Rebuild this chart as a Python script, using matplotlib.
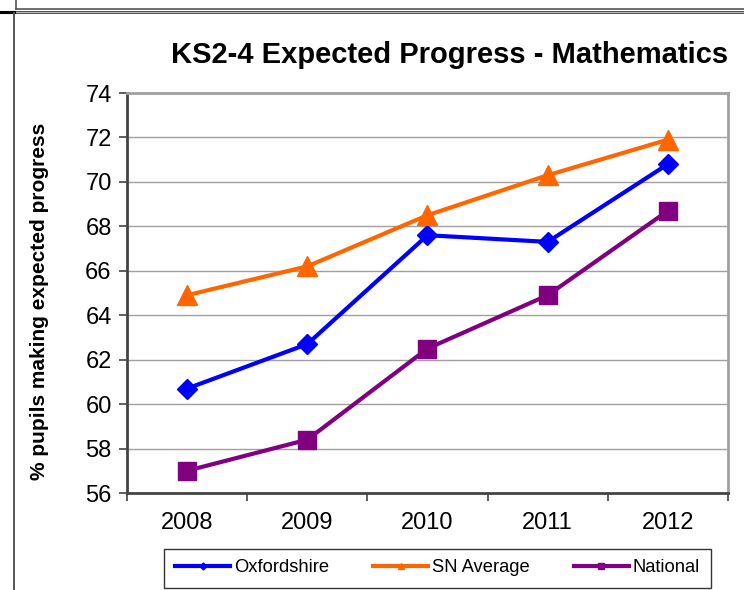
import matplotlib.pyplot as plt
from matplotlib.lines import Line2D

years = ["2008", "2009", "2010", "2011", "2012"]
oxfordshire = [60.7, 62.7, 67.6, 67.3, 70.8]
sn_average = [64.9, 66.2, 68.5, 70.3, 71.9]
national = [57.0, 58.4, 62.5, 64.9, 68.7]

plt.rcParams["font.family"] = ["Liberation Sans", "DejaVu Sans"]

fig = plt.figure(figsize=(7.44, 5.90), dpi=100)

# page borders around the chart (copied from the document)
fig.add_artist(Line2D([0, 1], [1 - 12 / 590, 1 - 12 / 590], color="#555555", lw=2.2, transform=fig.transFigure))
fig.add_artist(Line2D([0, 1], [1 - 12 / 590, 1 - 12 / 590], color="#cccccc", lw=0.6, transform=fig.transFigure))
fig.add_artist(Line2D([0, 14 / 744], [1 - 12 / 590, 1 - 12 / 590], color="black", lw=2.2, transform=fig.transFigure))
fig.add_artist(Line2D([14 / 744, 14 / 744], [0, 1 - 13 / 590], color="#555555", lw=1.4, transform=fig.transFigure))
fig.add_artist(Line2D([16 / 744, 16 / 744], [1 - 9 / 590, 1], color="#555555", lw=1.2, transform=fig.transFigure))
fig.add_artist(Line2D([16 / 744, 1], [1 - 9 / 590, 1 - 9 / 590], color="#555555", lw=1.2, transform=fig.transFigure))

ax = fig.add_axes([127 / 744, 1 - 493 / 590, 601 / 744, 400 / 590])

x = range(len(years))
ax.plot(x, oxfordshire, color="#0000ff", lw=3, marker="D", ms=10, label="Oxfordshire", zorder=3)
ax.plot(x, sn_average, color="#ff6600", lw=3, marker="^", ms=14, label="SN Average", zorder=3)
ax.plot(x, national, color="#800080", lw=3, marker="s", ms=13, label="National", zorder=3)

ax.set_xlim(-0.5, 4.5)
ax.set_ylim(56, 74)
ax.set_yticks(range(56, 75, 2))
ax.set_xticks(list(x))
ax.set_xticklabels(years)
ax.set_xticks([i - 0.5 for i in range(6)], minor=True)
ax.tick_params(axis="x", which="major", length=0, labelsize=17, pad=14)
ax.tick_params(axis="x", which="minor", length=6, width=1.2, direction="out", color="#444444")
ax.tick_params(axis="y", length=6, width=1.2, direction="out", color="#444444", labelsize=17, pad=5)
ax.grid(axis="y", color="#a0a0a0", lw=1)
ax.set_axisbelow(True)

for side in ["top", "right"]:
    ax.spines[side].set_color("#a0a0a0")
    ax.spines[side].set_linewidth(2)
for side in ["left", "bottom"]:
    ax.spines[side].set_color("#444444")
    ax.spines[side].set_linewidth(2)

ax.set_ylabel("% pupils making expected progress", fontsize=15, fontweight="bold")
ax.yaxis.set_label_coords(-0.13, 0.48)
fig.text(450 / 744, 1 - 55 / 590, "KS2-4 Expected Progress - Mathematics", fontsize=21,
         fontweight="bold", ha="center", va="center")

leg = fig.legend(loc="center", bbox_to_anchor=(166 / 744, 2 / 590, 543 / 744, 40 / 590), ncol=3,
                 fontsize=13.2, frameon=True, fancybox=False, edgecolor="black", markerscale=0.35,
                 handlelength=3, handletextpad=0.2, columnspacing=2.4, borderpad=0.6, borderaxespad=0)
leg.get_frame().set_linewidth(1)

fig.savefig("out.png", dpi=100)
